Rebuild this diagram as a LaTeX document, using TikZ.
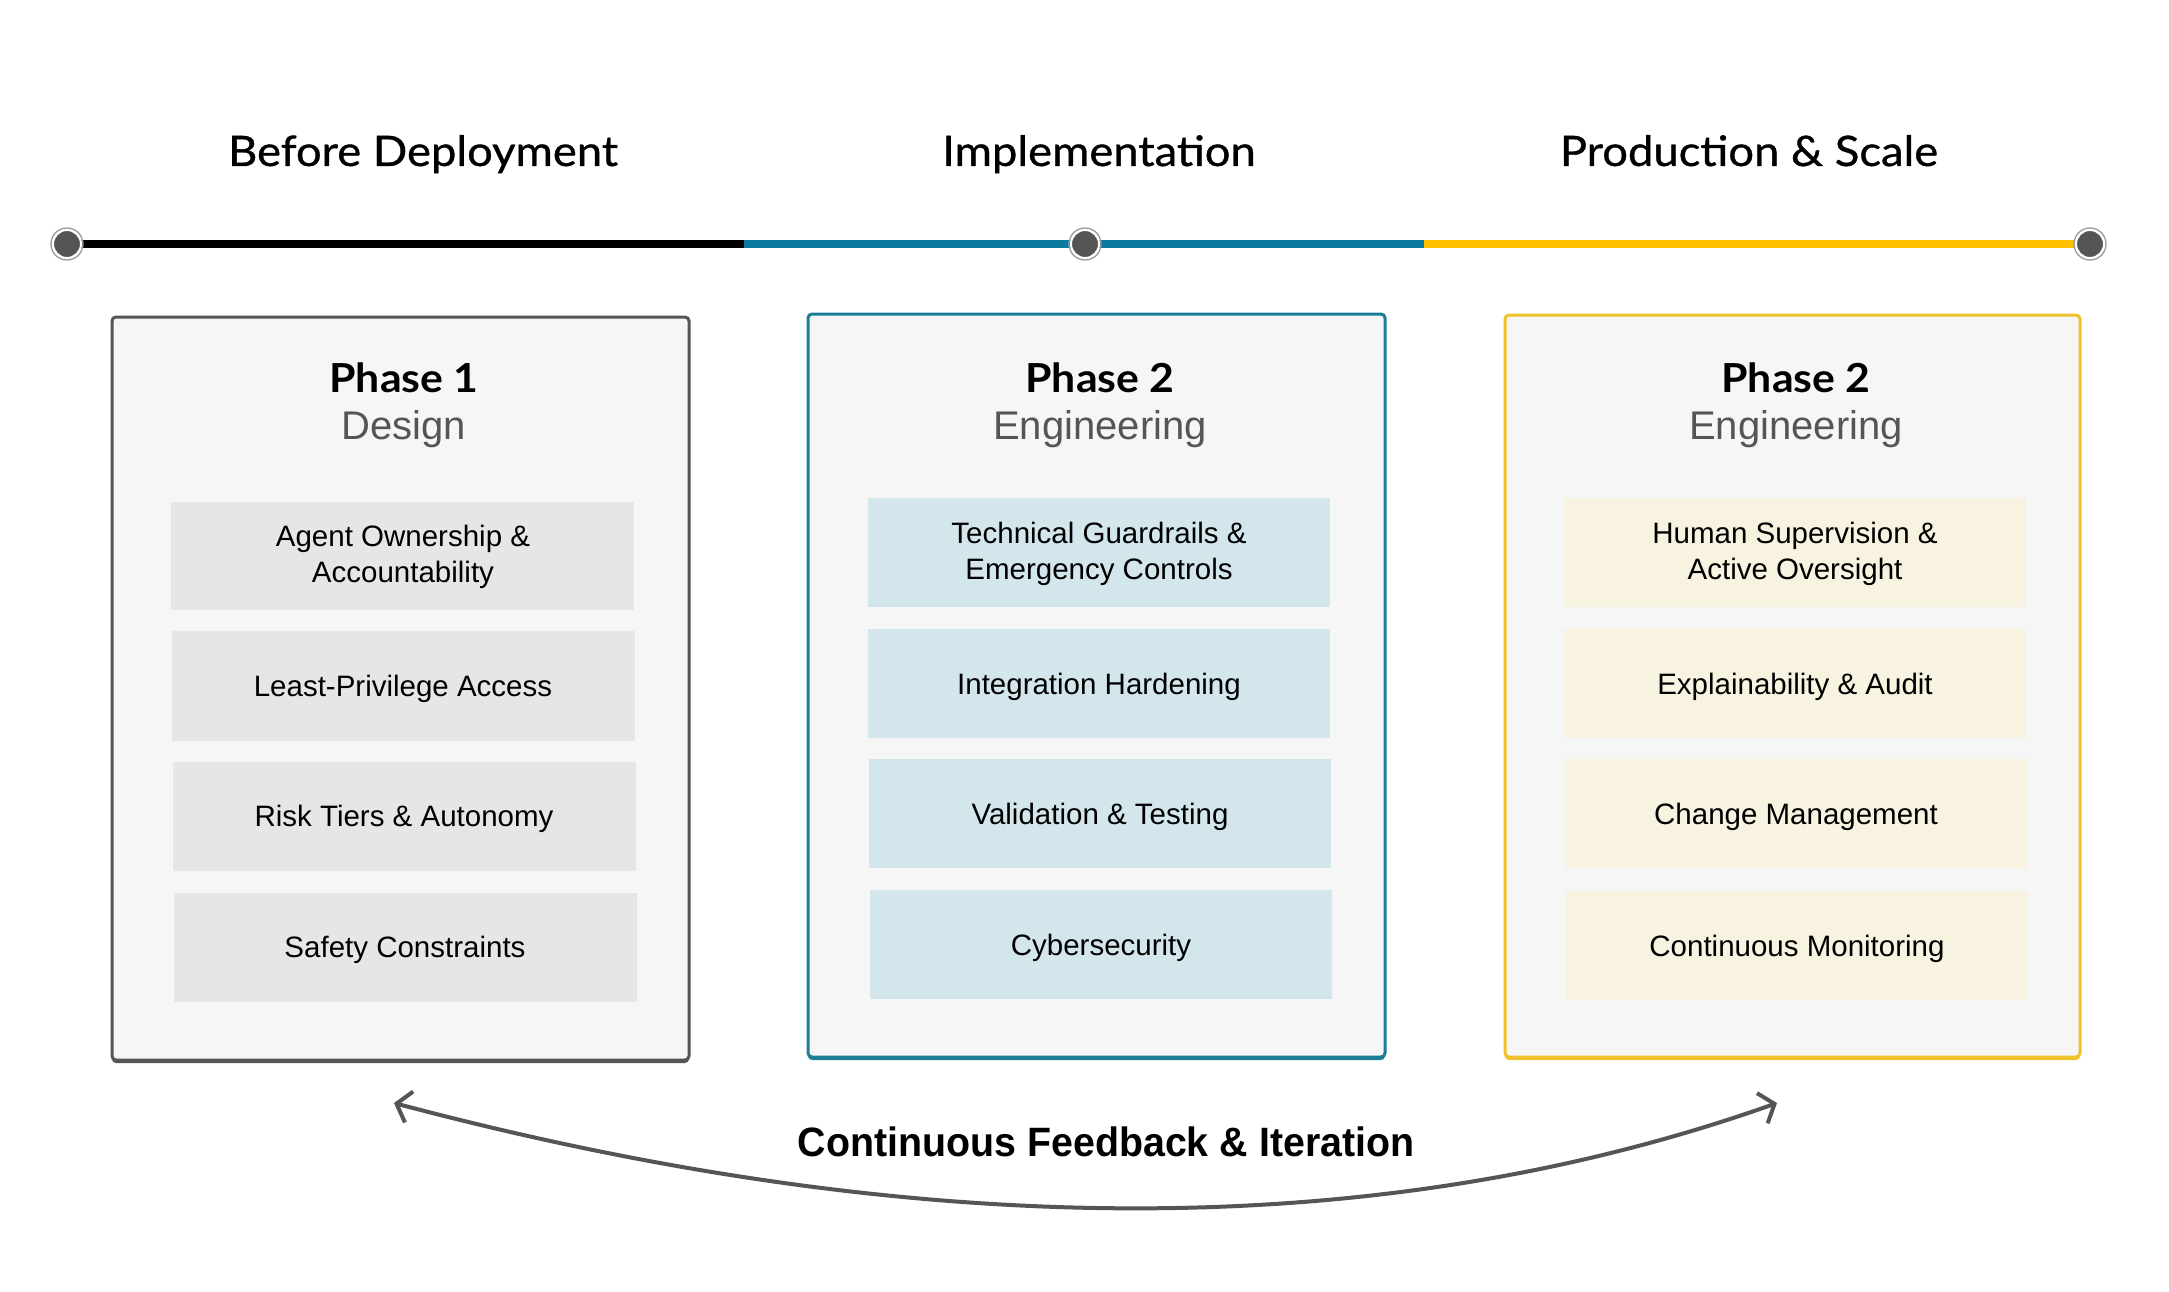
\documentclass[tikz,border=0pt]{standalone}
\usepackage{fontspec}
\setmainfont{Liberation Sans}
\newfontfamily\hfont{Lato}[FakeStretch=1.08, FakeBold=0.8]
\newfontfamily\tfont{Lato}[FakeStretch=1.07]
\newfontfamily\fbfont{Liberation Sans}[FakeStretch=0.96]
\usetikzlibrary{arrows.meta,calc}
\definecolor{boxfill}{HTML}{F6F6F6}
\definecolor{bordA}{HTML}{555555}
\definecolor{bordB}{HTML}{1B7E97}
\definecolor{bordC}{HTML}{EEC12D}
\definecolor{itemA}{HTML}{E6E6E6}
\definecolor{itemB}{HTML}{D3E6EB}
\definecolor{itemC}{HTML}{F8F2E0}
\definecolor{lineB}{HTML}{0A7AA0}
\definecolor{lineC}{HTML}{FFC000}
\definecolor{dotfill}{HTML}{555555}
\definecolor{subgray}{HTML}{555555}
\definecolor{arcgray}{HTML}{555555}
\tikzset{
  heading/.style={font=\hfont\fontsize{42}{48}\selectfont, anchor=base, inner sep=0pt},
  ptitle/.style={font=\tfont\bfseries\fontsize{40}{48}\selectfont, anchor=base, inner sep=0pt},
  psub/.style={font=\fontsize{40}{46}\selectfont, text=subgray, anchor=base, inner sep=0pt},
  phasebox/.style={draw=#1, fill=boxfill, line width=3pt, rounded corners=4pt},
  itemtxt/.style={font=\fontsize{29.5}{36}\selectfont, align=center, inner sep=0pt},
  onetxt/.style={font=\fontsize{29.5}{36}\selectfont, inner sep=0pt, text height=21pt, text depth=0pt},
  tlseg/.style={line width=8pt},
  tldot/.style={circle, fill=dotfill, draw=white, line width=2pt, minimum size=28pt, inner sep=0pt},
  tlring/.style={circle, draw=gray!80, line width=1.3pt, minimum size=32pt, inner sep=0pt},
  fbarc/.style={draw=arcgray, line width=4pt, {Straight Barb[length=13pt,width=32pt,line width=4pt]}-{Straight Barb[length=13pt,width=32pt,line width=4pt]}},
  fbtxt/.style={font=\fbfont\bfseries\fontsize{41}{48}\selectfont, anchor=base, inner sep=0pt}
}
\begin{document}
\begin{tikzpicture}[x=1pt,y=-1pt]
\useasboundingbox[fill=white] (0,0) rectangle (2169,1292);

% headings
\node[heading] (h1) at (423,166) {Before Deployment};
\node[heading] (h2) at (1099,166) {Implementation};
\node[heading] (h3) at (1749,166) {Production \& Scale};

% timeline
\coordinate (tA) at (67,244);
\coordinate (tAB) at (744,244);
\coordinate (tBC) at (1424,244);
\coordinate (tC) at (2090,244);
\coordinate (tM) at (1085,244);
\draw[tlseg, black] (tA) -- (tAB);
\draw[tlseg, lineB] (tAB) -- (tBC);
\draw[tlseg, lineC] (tBC) -- (tC);
\foreach \p/\n in {tA/dA, tM/dM, tC/dC}{
  \node[tlring] (\n r) at (\p) {};
  \node[tldot] (\n) at (\p) {};
}

% phase boxes
\fill[bordA, rounded corners=4pt] (112,320) rectangle (689,1063);
\draw[phasebox=bordA] (112,317) rectangle (689,1060);
\fill[bordB, rounded corners=4pt] (808,317) rectangle (1385,1060);
\draw[phasebox=bordB] (808,314) rectangle (1385,1057);
\fill[bordC, rounded corners=4pt] (1505,318) rectangle (2080,1060);
\draw[phasebox=bordC] (1505,315) rectangle (2080,1057);

% titles
\node[ptitle] (t1) at (404,392) {Phase 1};
\node[psub] (s1) at (404,439) {Design};
\node[ptitle] (t2) at (1100,392) {Phase 2};
\node[psub] (s2) at (1100,439) {Engineering};
\node[ptitle] (t3) at (1796,392) {Phase 2};
\node[psub] (s3) at (1796,439) {Engineering};

% items column 1
\fill[itemA] (171,502) rectangle (634,610);
\fill[itemA] (172,631) rectangle (635,741);
\fill[itemA] (173,762) rectangle (636,871);
\fill[itemA] (174,893) rectangle (637,1002);
\node[itemtxt] (x11) at (403,557) {Agent Ownership \&\\Accountability};
\node[onetxt] (x12) at (403,686) {Least-Privilege Access};
\node[onetxt] (x13) at (404,816) {Risk Tiers \& Autonomy};
\node[onetxt] (x14) at (405,947) {Safety Constraints};

% items column 2
\fill[itemB] (868,498) rectangle (1330,607);
\fill[itemB] (868,629) rectangle (1330,738);
\fill[itemB] (869,759) rectangle (1331,868);
\fill[itemB] (870,890) rectangle (1332,999);
\node[itemtxt] (x21) at (1099,554) {Technical Guardrails \&\\Emergency Controls};
\node[onetxt] (x22) at (1099,684) {Integration Hardening};
\node[onetxt] (x23) at (1100,814) {Validation \& Testing};
\node[onetxt] (x24) at (1101,945) {Cybersecurity};

% items column 3
\fill[itemC] (1564,498) rectangle (2026,607);
\fill[itemC] (1564,629) rectangle (2026,738);
\fill[itemC] (1565,759) rectangle (2027,868);
\fill[itemC] (1566,891) rectangle (2028,1000);
\node[itemtxt] (x31) at (1795,554) {Human Supervision \&\\Active Oversight};
\node[onetxt] (x32) at (1795,684) {Explainability \& Audit};
\node[onetxt] (x33) at (1796,814) {Change Management};
\node[onetxt] (x34) at (1797,946) {Continuous Monitoring};

% feedback arc
\coordinate (fL) at (394,1103);
\coordinate (fR) at (1777,1103);
\coordinate (fC) at (1185,1313);
\draw[fbarc] (fL) .. controls ($(fL)!0.6667!(fC)$) and ($(fR)!0.6667!(fC)$) .. (fR);
\node[fbtxt] (fb) at (1106,1156) {Continuous Feedback \& Iteration};
\end{tikzpicture}
\end{document}
